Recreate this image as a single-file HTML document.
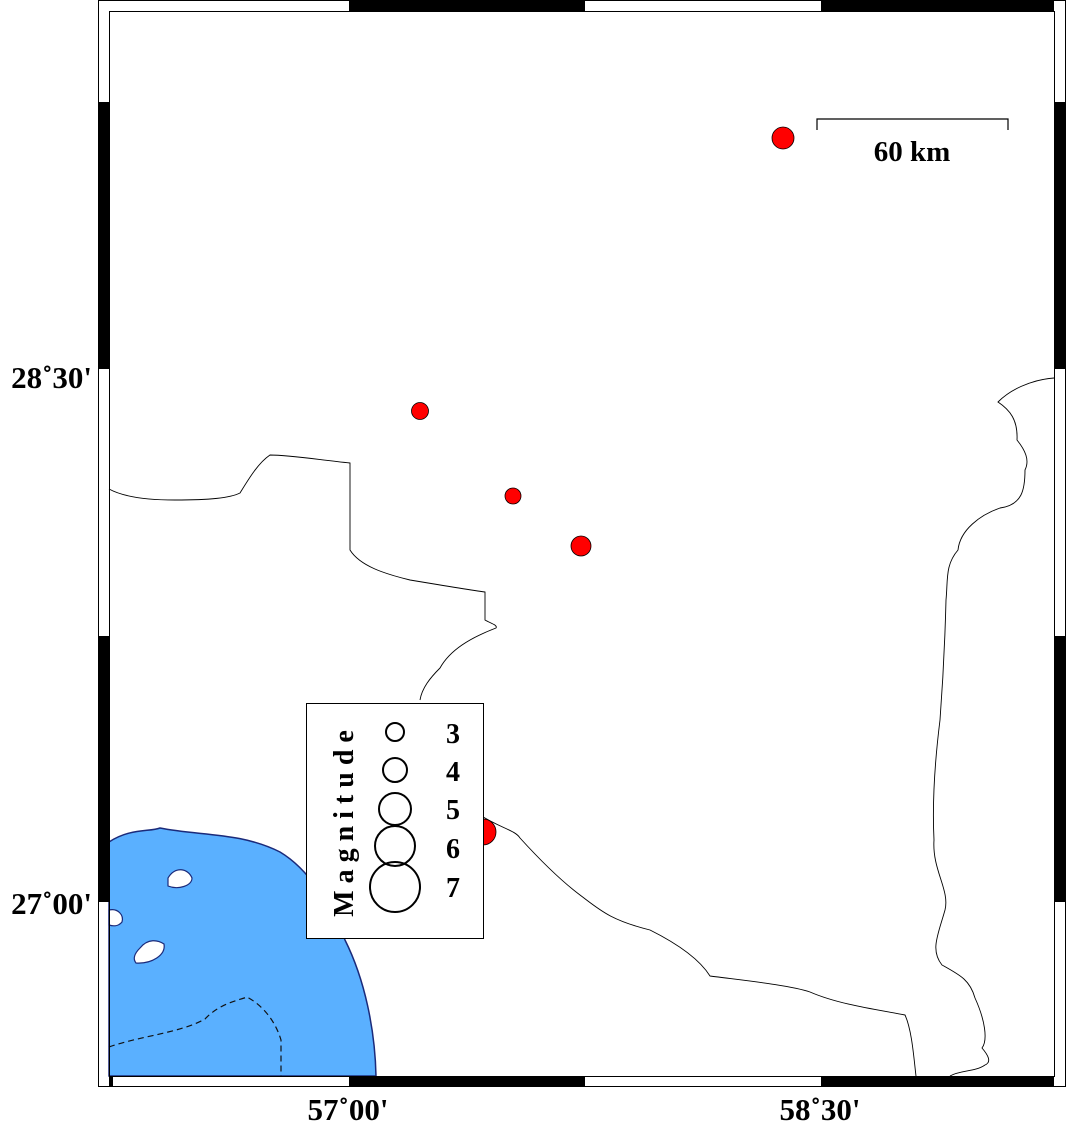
<!DOCTYPE html>
<html><head><style>body{margin:0;background:#fff}svg{display:block}</style></head><body>
<svg width="1066" height="1124" viewBox="0 0 1066 1124" xmlns="http://www.w3.org/2000/svg">
<rect width="1066" height="1124" fill="#fff"/>
<path d="M109,842 C130,828 150,832 160,828 C200,836 240,832 280,852 C310,870 330,905 345,940 C365,980 375,1030 376,1076 L109,1076 Z" fill="#5ab0ff" stroke="#1b2a7a" stroke-width="1.5"/>
<path d="M168,878 C175,866 188,868 192,878 C192,886 178,890 168,886 Z" fill="#fff" stroke="#1b2a7a" stroke-width="1.2"/>
<path d="M109,910 C118,908 124,915 122,922 C118,927 112,926 109,925 Z" fill="#fff" stroke="#1b2a7a" stroke-width="1.2"/>
<path d="M140,948 C148,938 158,940 164,944 C166,955 152,964 136,963 C132,958 136,952 140,948 Z" fill="#fff" stroke="#1b2a7a" stroke-width="1.2"/>
<path d="M109,1047 C140,1036 180,1033 205,1019 C220,1003 240,1000 247,997 C262,1005 275,1020 281,1040 L281,1076" fill="none" stroke="#111" stroke-width="1.2" stroke-dasharray="6,4"/>
<g fill="none" stroke="#000" stroke-width="0.9">
<path d="M109,489 C120,495 140,500 175,500 C210,500 230,498 240,493 C248,480 258,463 270,455 C290,455 320,460 350,463 L350,550 C360,566 385,574 410,580 C440,585 470,590 485,592 L485,620 C490,623 498,625 496,628 C470,638 450,650 440,668 C430,678 422,688 420,700"/>
<path d="M480,815 C500,828 515,830 520,838 C540,860 560,880 580,895 C600,910 610,920 650,930 C680,945 700,960 710,976 C740,980 790,985 810,992 C840,1005 880,1010 905,1015 C912,1030 914,1060 916,1076"/>
<path d="M1054,378 C1030,380 1010,390 998,402 C1010,410 1018,420 1017,440 C1025,450 1030,460 1025,470 C1025,490 1022,505 1000,508 C980,515 960,530 958,550 C945,565 948,580 946,600 C945,640 943,680 940,720 C935,760 932,800 934,840 C932,870 950,890 945,910 C938,935 930,950 942,965 C960,975 970,980 975,998 C985,1020 988,1040 982,1048 C988,1055 992,1062 985,1065 C975,1072 960,1070 950,1076"/>
</g>
<rect x="98.5" y="0.5" width="967" height="1086" fill="none" stroke="#000"/>
<rect x="109.5" y="11.5" width="945" height="1065" fill="none" stroke="#000"/>
<g fill="#000">
<rect x="349" y="0" width="236" height="11"/><rect x="821" y="0" width="233" height="11"/>
<rect x="349" y="1076" width="236" height="10"/><rect x="821" y="1076" width="233" height="10"/>
<rect x="109" y="1076" width="4" height="10"/>
<rect x="98" y="102" width="11" height="267"/><rect x="98" y="636" width="11" height="266"/>
<rect x="1054" y="102" width="11" height="267"/><rect x="1054" y="636" width="11" height="266"/>
</g>
<g fill="#f00" stroke="#000" stroke-width="0.8">
<circle cx="783" cy="138" r="11"/><circle cx="420" cy="411" r="8.5"/>
<circle cx="513" cy="496" r="8"/><circle cx="581" cy="546" r="10"/>
<circle cx="483" cy="832" r="13"/>
</g>
<path d="M817,130 V119 H1008 V130" fill="none" stroke="#000" stroke-width="1.2"/>
<text x="912" y="161" font-family="Liberation Serif" font-weight="bold" font-size="29" text-anchor="middle">60 km</text>
<rect x="306.5" y="703.5" width="177" height="235" fill="#fff" stroke="#000"/>
<text transform="translate(353,820) rotate(-90)" font-family="Liberation Serif" font-weight="bold" font-size="28" letter-spacing="7" text-anchor="middle">Magnitude</text>
<g fill="none" stroke="#000" stroke-width="2">
<circle cx="395" cy="732" r="9"/><circle cx="395" cy="770" r="12"/><circle cx="395" cy="809" r="16"/><circle cx="395" cy="846" r="20"/><circle cx="395" cy="887" r="25"/>
</g>
<g font-family="Liberation Serif" font-weight="bold" font-size="28">
<text x="446" y="743">3</text><text x="446" y="781">4</text><text x="446" y="819">5</text><text x="446" y="858">6</text><text x="446" y="897">7</text>
</g>
<g font-family="Liberation Serif" font-weight="bold" font-size="31">
<text x="348" y="1120" text-anchor="middle">57˚00'</text>
<text x="820" y="1120" text-anchor="middle">58˚30'</text>
<text x="92" y="388" text-anchor="end">28˚30'</text>
<text x="92" y="914" text-anchor="end">27˚00'</text>
</g>
</svg>
</body></html>
